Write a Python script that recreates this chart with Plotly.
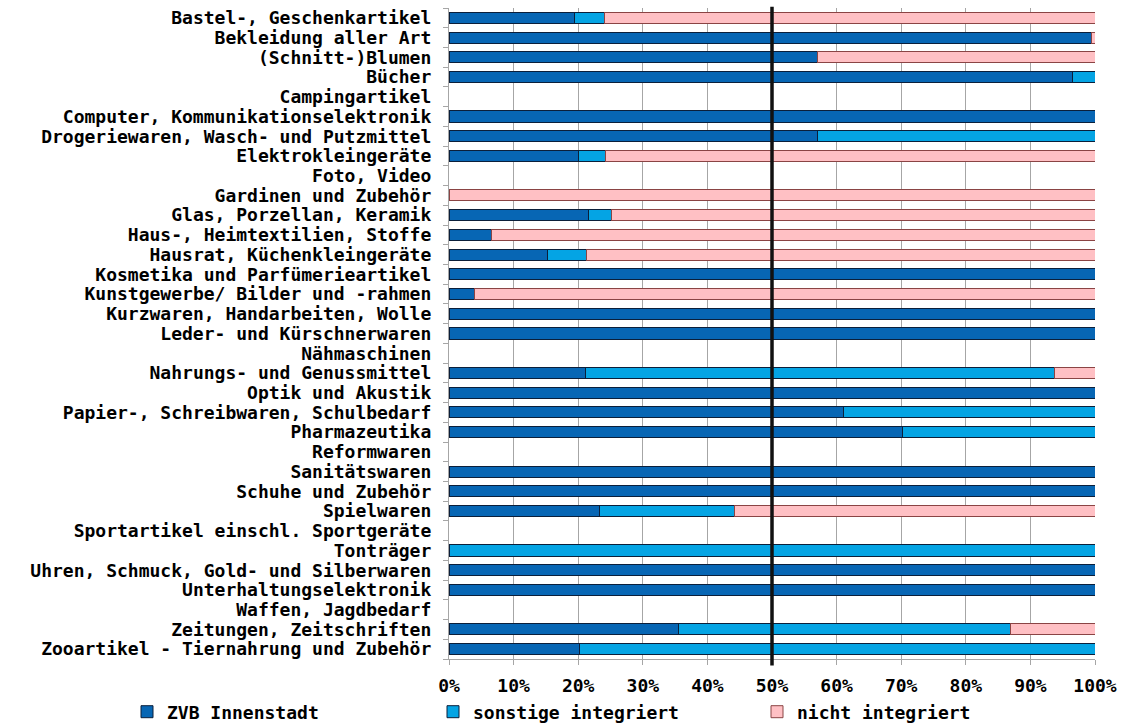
import plotly.graph_objects as go

# Sortimentsgruppen (top to bottom)
categories = [
    "Bastel-, Geschenkartikel",
    "Bekleidung aller Art",
    "(Schnitt-)Blumen",
    "Bücher",
    "Campingartikel",
    "Computer, Kommunikationselektronik",
    "Drogeriewaren, Wasch- und Putzmittel",
    "Elektrokleingeräte",
    "Foto, Video",
    "Gardinen und Zubehör",
    "Glas, Porzellan, Keramik",
    "Haus-, Heimtextilien, Stoffe",
    "Hausrat, Küchenkleingeräte",
    "Kosmetika und Parfümerieartikel",
    "Kunstgewerbe/ Bilder und -rahmen",
    "Kurzwaren, Handarbeiten, Wolle",
    "Leder- und Kürschnerwaren",
    "Nähmaschinen",
    "Nahrungs- und Genussmittel",
    "Optik und Akustik",
    "Papier-, Schreibwaren, Schulbedarf",
    "Pharmazeutika",
    "Reformwaren",
    "Sanitätswaren",
    "Schuhe und Zubehör",
    "Spielwaren",
    "Sportartikel einschl. Sportgeräte",
    "Tonträger",
    "Uhren, Schmuck, Gold- und Silberwaren",
    "Unterhaltungselektronik",
    "Waffen, Jagdbedarf",
    "Zeitungen, Zeitschriften",
    "Zooartikel - Tiernahrung und Zubehör",
]

# Shares in percent
zvb_innenstadt = [19.4, 99.5, 57.1, 96.5, 0, 100, 57.1, 20.0, 0, 0, 21.6, 6.6, 15.2, 100,
                  3.9, 100, 100, 0, 21.2, 100, 61.1, 70.2, 0, 100, 100, 23.3, 0, 0, 100,
                  100, 0, 35.5, 20.2]
sonstige_integriert = [4.6, 0, 0, 3.5, 0, 0, 42.9, 4.3, 0, 0, 3.5, 0, 6.1, 0,
                       0, 0, 0, 0, 72.5, 0, 38.9, 29.8, 0, 0, 0, 20.9, 0, 100, 0,
                       0, 0, 51.4, 79.8]
nicht_integriert = [76.0, 0.5, 42.9, 0, 0, 0, 0, 75.7, 0, 100, 74.9, 93.4, 78.7, 0,
                    96.1, 0, 0, 0, 6.3, 0, 0, 0, 0, 0, 0, 55.8, 0, 0, 0,
                    0, 0, 13.1, 0]

tick_values = [i / 10 for i in range(11)]
tick_labels = [f"{i * 10}%" for i in range(11)]

FONT = "DejaVu Sans Mono"
W, H = 1128, 726
PLOT_L, PLOT_R = 449, 1095

series = [
    ("ZVB Innenstadt", zvb_innenstadt, "#0766b4", "#0b1f3a", "legend", 127),
    ("sonstige integriert", sonstige_integriert, "#04a4e4", "#0b1f3a", "legend2", 433),
    ("nicht integriert", nicht_integriert, "#ffc0c4", "#8a4444", "legend3", 757),
]

fig = go.Figure()
for name, values, fill, edge, leg, _ in series:
    fig.add_trace(go.Bar(
        name=name,
        y=categories,
        x=[v / 100 if v else None for v in values],
        orientation="h",
        marker=dict(color=fill, line=dict(color=edge, width=1)),
        legend=leg,
        showlegend=True,
        hovertemplate="%{y}: %{x:.1%}<extra>" + name + "</extra>",
    ))

# 50 % reference line
fig.add_shape(type="line", xref="x", yref="paper", x0=0.5, x1=0.5, y0=-0.01, y1=1.002,
              line=dict(color="#111111", width=3.5), layer="above")

legend_font = dict(family=FONT, size=18, color="#000000", weight="bold")
legends = {}
for _, _, _, _, leg, left in series:
    legends[leg] = dict(
        orientation="h", xref="container", yref="container",
        x=left / W, xanchor="left", y=(H - 712) / H, yanchor="middle",
        font=legend_font, bgcolor="rgba(0,0,0,0)", itemwidth=30,
        borderwidth=0,
    )

fig.update_layout(
    width=W,
    height=H,
    margin=dict(l=PLOT_L, r=W - PLOT_R, t=8, b=67, autoexpand=False),
    paper_bgcolor="white",
    plot_bgcolor="white",
    barmode="stack",
    bargap=0.44,
    showlegend=True,
    font=dict(family=FONT, size=18, color="#000000", weight="bold"),
    **legends,
    xaxis=dict(
        range=[0, 1],
        tickvals=tick_values,
        ticktext=tick_labels,
        showgrid=True,
        gridcolor="#a6a6a6",
        gridwidth=1.2,
        zeroline=False,
        showline=True,
        linecolor="#a6a6a6",
        linewidth=1.2,
        ticks="outside",
        ticklen=5,
        tickcolor="#a6a6a6",
        ticklabelstandoff=5,
        tickfont=dict(family=FONT, size=18, color="#000000", weight="bold"),
        fixedrange=True,
    ),
    yaxis=dict(
        categoryorder="array",
        categoryarray=categories,
        tickmode="array",
        tickvals=categories,
        ticktext=categories,
        range=[len(categories) - 0.5, -0.5],
        tickson="boundaries",
        showgrid=False,
        showline=True,
        linecolor="#a6a6a6",
        linewidth=1.2,
        ticks="outside",
        ticklen=5,
        tickcolor="#a6a6a6",
        ticklabelstandoff=13,
        tickfont=dict(family=FONT, size=18, color="#000000", weight="bold"),
        fixedrange=True,
    ),
)

fig.write_html("out.html")
